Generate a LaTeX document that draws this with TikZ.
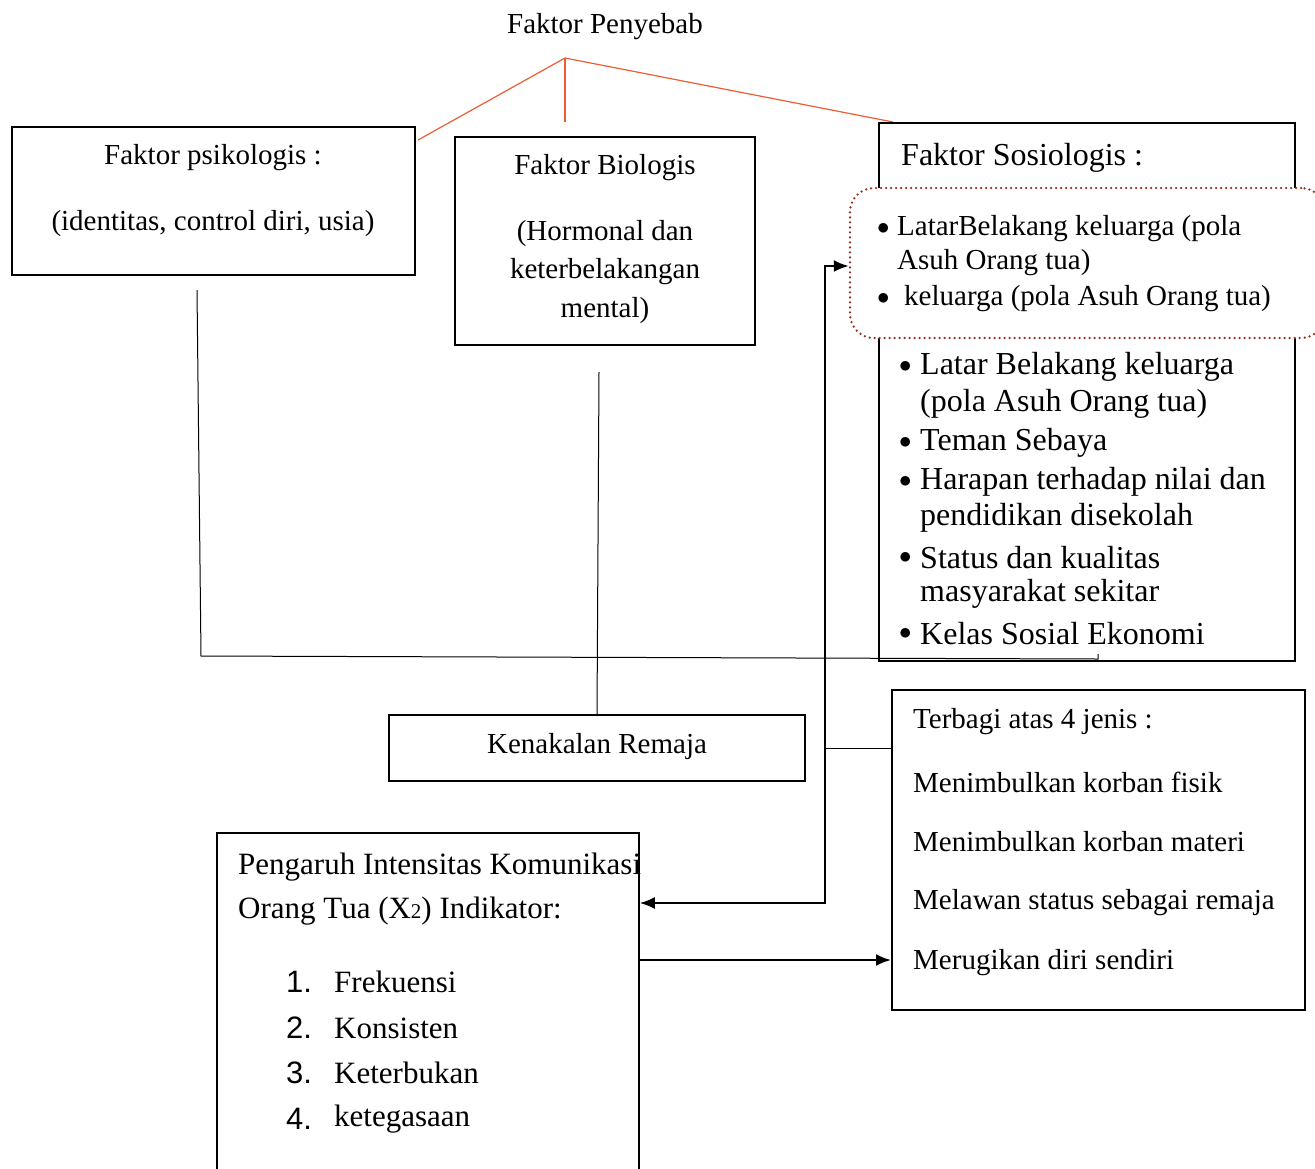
\documentclass[tikz,border=0pt]{standalone}
\usepackage{fontspec}
\setmainfont{Liberation Serif}
\newfontfamily\numfont{Liberation Sans}
\usetikzlibrary{arrows.meta}
\definecolor{redline}{RGB}{238,92,52}
\definecolor{dotred}{RGB}{150,45,25}

\begin{document}
\begin{tikzpicture}
  [x=1pt,y=-1pt,
   box/.style={draw,line width=2pt,inner sep=0pt},
   txt/.style={anchor=west,inner sep=0pt,yshift=-3pt,font=\fontsize{29}{34}\selectfont},
   big/.style={anchor=west,inner sep=0pt,yshift=-3pt,font=\fontsize{32}{38}\selectfont},
   mid/.style={anchor=west,inner sep=0pt,yshift=-3pt,font=\fontsize{31}{36}\selectfont},
   link/.style={line width=1pt},
   flow/.style={line width=2pt,-{Latex[length=15pt,width=12pt]}}]
  \useasboundingbox (0,0) rectangle (1315,1168);

  % title and red lines
  \node[txt,anchor=center] (title) at (605,24) {Faktor Penyebab};
  \coordinate (apex) at (565,58);
  \coordinate (toPsi) at (418,140);
  \coordinate (toBio) at (565,122);
  \coordinate (toSos) at (893,122);
  \foreach \to in {toPsi,toBio,toSos}
    \draw[redline,line width=1.2pt] (apex) -- (\to);

  % psikologis
  \node[box,minimum width=403,minimum height=148] (psi) at (213.5,201) {};
  \node[txt,anchor=center] (psiA) at (213,155) {Faktor psikologis :};
  \node[txt,anchor=center] (psiB) at (213,221) {(identitas, control diri, usia)};

  % biologis
  \node[box,minimum width=300,minimum height=208] (bio) at (605,241) {};
  \node[txt,anchor=center] (bioA) at (605,165) {Faktor Biologis};
  \node[txt,anchor=center] (bioB) at (605,231) {(Hormonal dan};
  \node[txt,anchor=center] (bioC) at (605,269) {keterbelakangan};
  \node[txt,anchor=center] (bioD) at (605,308) {mental)};

  % sosiologis
  \node[box,minimum width=416,minimum height=538] (sos) at (1087,392) {};
  \node[big] (sosA) at (901,155) {Faktor Sosiologis :};
  \node[draw=dotred,fill=white,line width=2.5pt,line cap=round,
        dash pattern=on 0pt off 5pt,rounded corners=24pt,
        minimum width=475,minimum height=150] (dot) at (1087.5,263) {};
  \node[txt] (dotA) at (877,226) {$\bullet$};
  \node[txt] (dotB) at (897,226) {LatarBelakang keluarga (pola};
  \node[txt] (dotC) at (897,260) {Asuh Orang tua)};
  \node[txt] (dotD) at (877,296) {$\bullet$};
  \node[txt] (dotE) at (904,296) {keluarga (pola Asuh Orang tua)};
  \foreach \y in {364,440,479,555,631}
    \node[big] at (899,\y) {$\bullet$};
  \node[big] (sosB) at (920,364) {Latar Belakang keluarga};
  \node[big] (sosC) at (920,401) {(pola Asuh Orang tua)};
  \node[big] (sosD) at (920,440) {Teman Sebaya};
  \node[big] (sosE) at (920,479) {Harapan terhadap nilai dan};
  \node[big] (sosF) at (920,515) {pendidikan disekolah};
  \node[big] (sosG) at (920,555) {Status dan kualitas};
  \node[big] (sosH) at (920,591) {masyarakat sekitar};
  \node[big] (sosI) at (920,631) {Kelas Sosial Ekonomi};

  % kenakalan
  \node[box,minimum width=416,minimum height=66] (kena) at (597,748) {};
  \node[txt,anchor=center] (kenaA) at (597,744) {Kenakalan Remaja};

  % terbagi
  \node[box,minimum width=413,minimum height=320] (terb) at (1098.5,850) {};
  \node[txt] (terbA) at (913,719) {Terbagi atas 4 jenis :};
  \node[txt] (terbB) at (913,779) {Menimbulkan korban fisik};
  \node[txt] (terbC) at (913,839) {Menimbulkan korban materi};
  \node[txt] (terbD) at (913,900) {Melawan status sebagai remaja};
  \node[txt] (terbE) at (913,960) {Merugikan diri sendiri};

  % pengaruh
  \node[draw,line width=1.5pt,inner sep=0pt,minimum width=422,minimum height=357] (peng) at (428,1011.5) {};
  \node[mid] (pengA) at (238,864) {Pengaruh Intensitas Komunikasi};
  \node[mid] (pengB) at (238,908) {Orang Tua (X{\fontsize{21}{21}\selectfont 2}) Indikator:};
  \foreach \n/\t/\y in {1/Frekuensi/979,2/Konsisten/1025,3/Keterbukan/1070,4/ketegasaan/1116}{
    \node[mid] (num\n) at (286,\y) {\numfont\n.};
    \node[mid] (item\n) at (334,\y) {\t};
  }

  % connectors
  \coordinate (psiEnd) at (197,290);
  \coordinate (psiCorner) at (201,656);
  \coordinate (sosTick) at (1098,659);
  \draw[link] (psiEnd) -- (psiCorner) -- (sosTick) -- ++(0,-5);
  \coordinate (bioEnd) at (599,372);
  \draw[link] (bioEnd) -- (kena.north);
  \coordinate (busTop) at (825,266);
  \coordinate (busMid) at (825,748);
  \coordinate (busBot) at (825,903);
  \draw[flow,{Latex[length=15pt,width=12pt]}-{Latex[length=15pt,width=12pt]}]
    (dot.west |- busTop) -- (busTop) -- (busBot) -- (peng.east |- busBot);
  \draw[link] (busMid) -- (terb.west |- busMid);
  \coordinate (pengOut) at (639,960);
  \draw[flow] (pengOut) -- (terb.west |- pengOut);
\end{tikzpicture}
\end{document}
